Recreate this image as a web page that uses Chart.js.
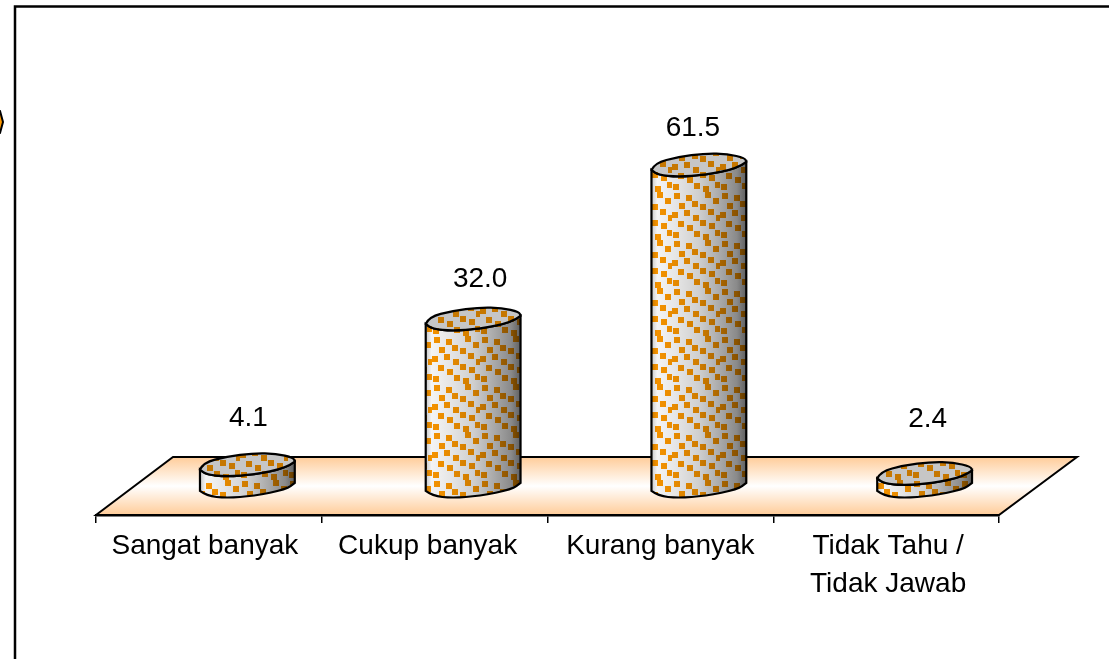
<!DOCTYPE html>
<html>
<head>
<meta charset="utf-8">
<style>
  html, body { margin: 0; padding: 0; background: #fff; overflow: hidden; }
  #wrap { width: 1109px; height: 659px; }
</style>
<script src="https://cdn.jsdelivr.net/npm/chart.js@4"></script>
</head>
<body>
<div id="wrap"><canvas id="myChart" width="1109" height="659"></canvas></div>
<script>
const categories = ['Sangat banyak', 'Cukup banyak', 'Kurang banyak', ['Tidak Tahu /', 'Tidak Jawab']];
const values = [4.1, 32.0, 61.5, 2.4];
const valueLabels = ['4.1', '32.0', '61.5', '2.4'];

// where the value text sits relative to the cylinder top
const labelNudgeX = [-37, -31, -44, -35];
const labelNudgeY = [-46, -40, -37, -54];
// the category texts are not quite centred in the reference
const tickNudgeX = [-4, -7, 0, 2];

const depthX = 38.5;

// outline of a cap, x as a share of the half width, y in pixels from the centre
const capUpper = [[-1, 5], [-0.93, -2], [-0.44, -8], [0.13, -11.5], [0.61, -11], [0.97, -7], [1, -3]];
const capLower = [[1, -3], [0.82, 3.5], [0.13, 10], [-0.44, 12], [-0.86, 10], [-1, 5]];

// orange squares of the fill texture
function makeTile() {
  const c = document.createElement('canvas');
  c.width = c.height = 48;
  const g = c.getContext('2d');
  g.fillStyle = '#ff9900';
  const squares = [[2,1],[14,3],[20,9],[33,0],[41,6],[7,11],[28,12],[0,20],[12,18],[21,23],[36,17],[44,23],[6,29],[15,33],[28,28],[37,31],[1,40],[22,39],[31,42],[43,38]];
  squares.forEach(s => g.fillRect(s[0], s[1], 6, 6));
  return c;
}

// runs through the midpoints of an outline so the corners come out soft
function traceOutline(ctx, pts, cx, cy, a, first) {
  const px = p => cx + p[0] * a;
  const py = p => cy + p[1];
  if (first) ctx.moveTo(px(pts[0]), py(pts[0]));
  else ctx.lineTo(px(pts[0]), py(pts[0]));
  for (let i = 1; i < pts.length - 1; i++) {
    const mx = (px(pts[i]) + px(pts[i + 1])) / 2;
    const my = (py(pts[i]) + py(pts[i + 1])) / 2;
    ctx.quadraticCurveTo(px(pts[i]), py(pts[i]), mx, my);
  }
  const last = pts[pts.length - 1];
  ctx.lineTo(px(last), py(last));
}

function capPath(ctx, cx, cy, a) {
  ctx.beginPath();
  traceOutline(ctx, capUpper, cx, cy, a, true);
  traceOutline(ctx, capLower, cx, cy, a, false);
  ctx.closePath();
}

function bodyPath(ctx, cx, top, base, a) {
  ctx.beginPath();
  ctx.moveTo(cx - a, top + 5);
  traceOutline(ctx, capLower.slice().reverse(), cx, base, a, false);
  ctx.lineTo(cx + a, top - 3);
  traceOutline(ctx, capLower, cx, top, a, false);
  ctx.closePath();
}

function drawCylinder(ctx, cx, top, base, a, tile) {
  const left = cx - a;
  const bodyGrad = ctx.createLinearGradient(left, 0, left + a * 2, 0);
  bodyGrad.addColorStop(0, '#c8c8c8');
  bodyGrad.addColorStop(0.06, '#f4f4f4');
  bodyGrad.addColorStop(0.25, '#e6e6e6');
  bodyGrad.addColorStop(0.5, '#cfcfcf');
  bodyGrad.addColorStop(0.7, '#adadad');
  bodyGrad.addColorStop(0.9, '#8a8a8a');
  bodyGrad.addColorStop(1, '#606060');

  ctx.save();
  bodyPath(ctx, cx, top, base, a);
  ctx.fillStyle = bodyGrad;
  ctx.fill();
  ctx.globalCompositeOperation = 'multiply';
  ctx.fillStyle = ctx.createPattern(tile, 'repeat');
  ctx.fill();
  ctx.restore();

  ctx.lineWidth = 2.2;
  ctx.strokeStyle = '#000';
  bodyPath(ctx, cx, top, base, a);
  ctx.stroke();

  ctx.save();
  capPath(ctx, cx, top, a);
  ctx.fillStyle = '#c6c6c6';
  ctx.fill();
  ctx.globalCompositeOperation = 'multiply';
  ctx.fillStyle = ctx.createPattern(tile, 'repeat');
  ctx.fill();
  ctx.restore();
  capPath(ctx, cx, top, a);
  ctx.stroke();
}

const paperPlugin = {
  id: 'paper',
  beforeDraw(chart) {
    const ctx = chart.ctx;
    ctx.save();
    // outer frame, only top and left fall inside the picture
    ctx.strokeStyle = '#000';
    ctx.lineWidth = 2.5;
    ctx.beginPath();
    ctx.moveTo(15, 659);
    ctx.lineTo(15, 6.5);
    ctx.lineTo(1109, 6.5);
    ctx.stroke();
    // bit of a shape cut off at the left edge
    ctx.beginPath();
    ctx.moveTo(-4, 109);
    ctx.lineTo(0, 111);
    ctx.lineTo(3, 122);
    ctx.lineTo(0, 133);
    ctx.lineTo(-4, 135);
    ctx.closePath();
    ctx.fillStyle = '#ff9900';
    ctx.fill();
    ctx.lineWidth = 2;
    ctx.stroke();
    ctx.restore();

    const items = chart.scales.x.getLabelItems();
    if (!chart.$nudged) {
      items.forEach((it, i) => { it.options.translation[0] += tickNudgeX[i]; });
      chart.$nudged = true;
    }
  },
  beforeDatasetsDraw(chart) {
    const ctx = chart.ctx;
    const bottom = chart.chartArea.bottom;
    const l = chart.chartArea.left;
    const r = chart.chartArea.right;
    const floorTop = bottom - 58;
    const g = ctx.createLinearGradient(0, floorTop, 0, bottom);
    g.addColorStop(0, '#ffcc99');
    g.addColorStop(0.5, '#ffffff');
    g.addColorStop(1, '#ffcc99');
    ctx.save();
    ctx.beginPath();
    ctx.moveTo(l, bottom);
    ctx.lineTo(l + 77, floorTop);
    ctx.lineTo(r + 78, floorTop);
    ctx.lineTo(r, bottom);
    ctx.closePath();
    ctx.fillStyle = g;
    ctx.fill();
    ctx.strokeStyle = '#000';
    ctx.lineWidth = 2;
    ctx.stroke();
    ctx.restore();
  },
  afterDatasetsDraw(chart) {
    const ctx = chart.ctx;
    const tile = makeTile();
    const meta = chart.getDatasetMeta(0);
    meta.data.forEach((bar, i) => {
      const cx = bar.x + depthX;
      drawCylinder(ctx, cx, bar.y, bar.base, bar.width / 2, tile);
      ctx.save();
      ctx.fillStyle = '#000';
      ctx.font = '28px "Liberation Sans"';
      ctx.textAlign = 'center';
      ctx.textBaseline = 'middle';
      ctx.fillText(valueLabels[i], cx + labelNudgeX[i] + 38, bar.y + labelNudgeY[i]);
      ctx.restore();
    });
  }
};

new Chart(document.getElementById('myChart').getContext('2d'), {
  type: 'bar',
  data: {
    labels: categories,
    datasets: [{
      data: values,
      backgroundColor: 'rgba(0,0,0,0)',
      borderWidth: 0,
      barPercentage: 0.42,
      categoryPercentage: 1
    }]
  },
  plugins: [paperPlugin],
  options: {
    responsive: false,
    animation: false,
    layout: { padding: { left: 96, right: 110, top: 0, bottom: 0 } },
    plugins: { legend: { display: false }, tooltip: { enabled: false } },
    scales: {
      x: {
        afterFit(scale) { scale.height = 144; },
        border: { color: '#000', width: 2.5 },
        grid: { offset: true, drawOnChartArea: false, drawTicks: true, tickLength: 8, color: '#000', lineWidth: 1.5 },
        ticks: {
          color: '#000',
          maxRotation: 0,
          autoSkip: false,
          padding: 4,
          font: { family: '"Liberation Sans"', size: 28, lineHeight: 1.36 }
        }
      },
      y: {
        display: false,
        min: -5.56,
        max: 93.1
      }
    }
  }
});
</script>
</body>
</html>
